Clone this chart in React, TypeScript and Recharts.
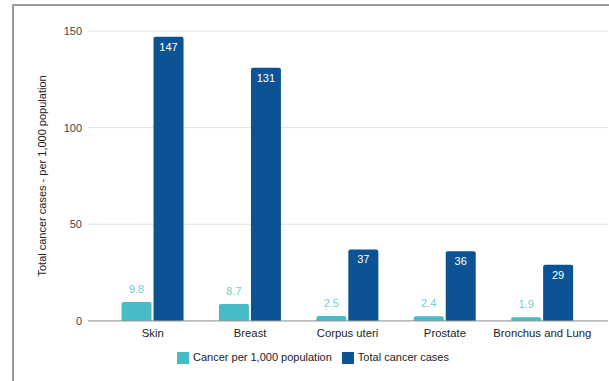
import { BarChart, Bar, XAxis, YAxis, CartesianGrid, Legend, LabelList } from "recharts";

const sites = ["Skin", "Breast", "Corpus uteri", "Prostate", "Bronchus and Lung"];
const perThousand = [9.8, 8.7, 2.5, 2.4, 1.9];
const totalCases = [147, 131, 37, 36, 29];
const yTicks = [0, 50, 100, 150];

const data = sites.map((site, i) => ({
  site,
  rate: perThousand[i],
  total: totalCases[i],
}));

const font = "'Liberation Sans', Arial, sans-serif";

const App = () => {
  return (
    <div style={{ position: "absolute", left: 0, top: 0, width: 609, height: 381, background: "#fff", fontFamily: font }}>
      {/* frame: only the left and top edges show in the crop */}
      <div
        style={{
          position: "absolute",
          left: 12,
          top: 4,
          right: 0,
          bottom: 0,
          borderLeft: "2px solid #9a9a9a",
          borderTop: "2px solid #9a9a9a",
        }}
      />
      <div style={{ position: "absolute", left: 0, top: 0 }}>
        <BarChart
          width={609}
          height={381}
          data={data}
          margin={{ top: 31, right: 1, bottom: 17, left: 28 }}
          barCategoryGap="18%"
          barGap={2}
        >
          <CartesianGrid vertical={false} stroke="#e0e0e0" />
          <XAxis
            dataKey="site"
            padding={{ left: 16, right: 17 }}
            tickLine={false}
            axisLine={{ stroke: "#999" }}
            tick={{ fill: "#222", fontSize: 11.3, fontFamily: font }}
            height={30}
            interval={0}
          />
          <YAxis
            domain={[0, 150]}
            ticks={yTicks}
            width={60}
            tickLine={false}
            axisLine={false}
            tickSize={4}
            tickMargin={2}
            tick={{ fill: "#444", fontSize: 11, fontFamily: font }}
            label={{
              value: "Total cancer cases - per 1,000 population",
              angle: -90,
              position: "insideLeft",
              offset: 14,
              style: { textAnchor: "middle", fill: "#222", fontSize: 11, fontFamily: font },
            }}
          />
          <Legend
            verticalAlign="bottom"
            iconType="square"
            iconSize={12}
            wrapperStyle={{ fontSize: 11, fontFamily: font, color: "#222" }}
            formatter={(v) => <span style={{ color: "#222" }}>{v}</span>}
          />
          <Bar dataKey="rate" name="Cancer per 1,000 population" fill="#46bdc6" radius={[2, 2, 0, 0]} isAnimationActive={false}>
            <LabelList dataKey="rate" position="top" offset={9} fill="#6fcdd4" fontSize={11} fontFamily={font} />
          </Bar>
          <Bar dataKey="total" name="Total cancer cases" fill="#0b5394" radius={[2, 2, 0, 0]} isAnimationActive={false}>
            <LabelList dataKey="total" position="insideTop" offset={6} fill="#fff" fontSize={11} fontFamily={font} />
          </Bar>
        </BarChart>
      </div>
    </div>
  );
};

export default App;
